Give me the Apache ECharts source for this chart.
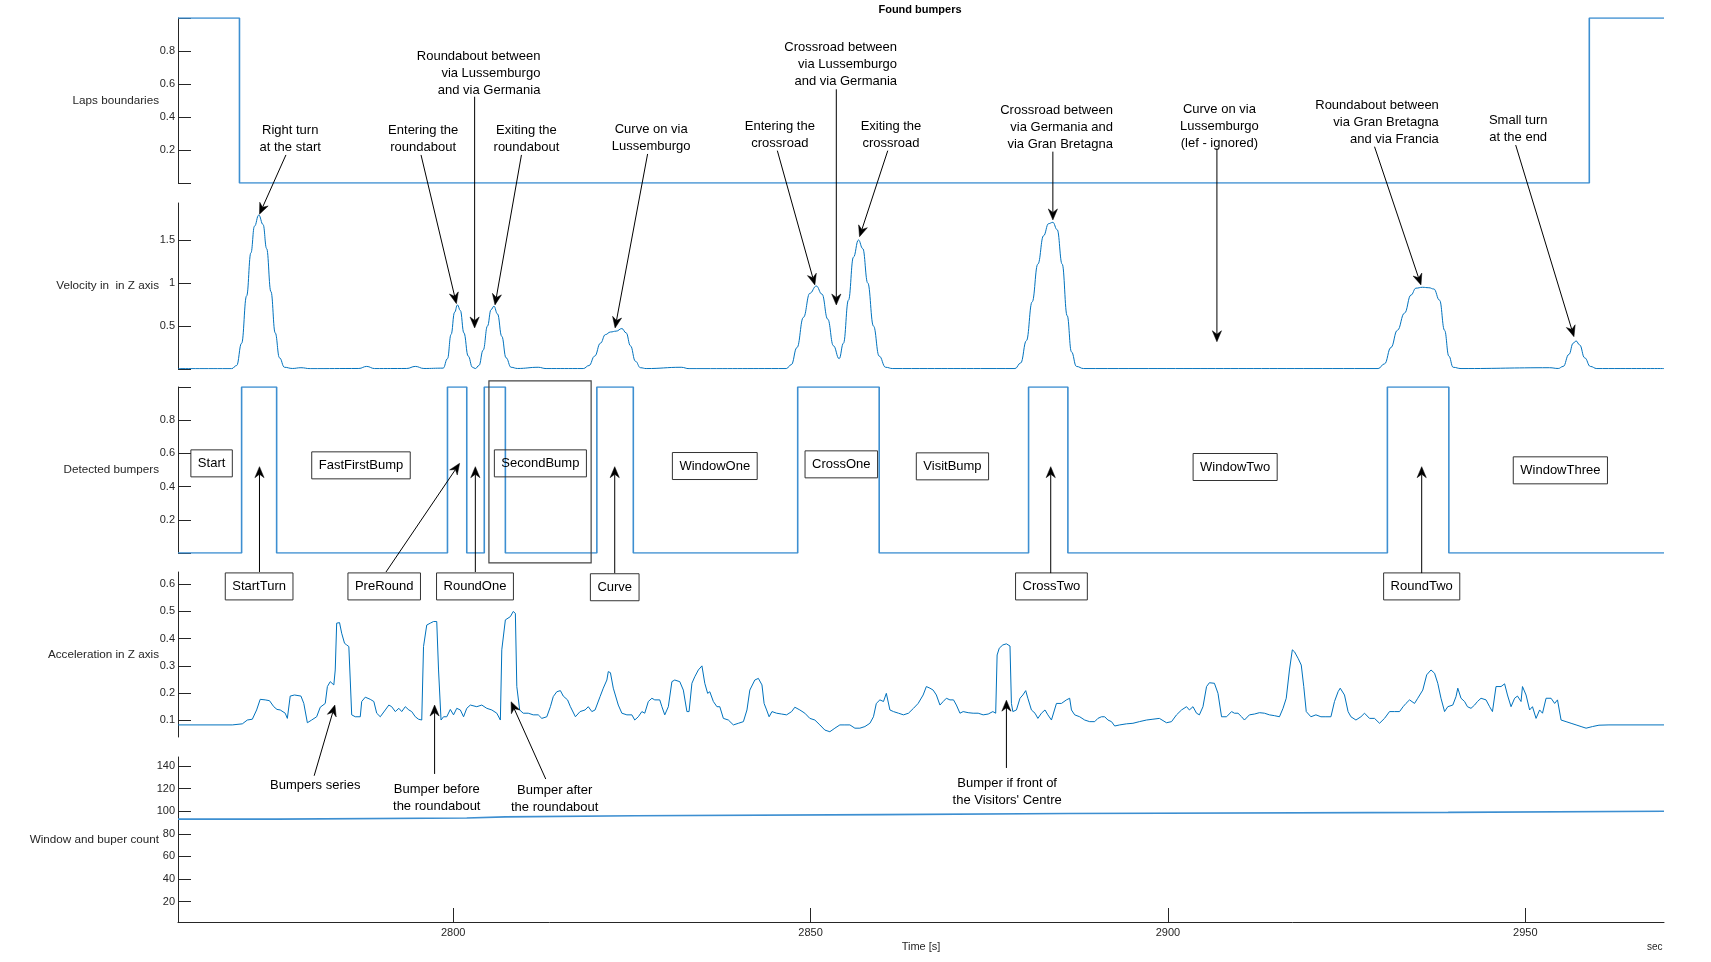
<!DOCTYPE html>
<html><head><meta charset="utf-8">
<script src="https://cdn.jsdelivr.net/npm/echarts@6/dist/echarts.min.js"></script>
<style>html,body{margin:0;padding:0;background:#fff}#c{width:1711px;height:962px}</style>
</head><body><div id="c"></div>
<script>
// ---------- DATA ----------
const lapSteps = [[2761.5, 1], [2770.1, 0], [2958.95, 1], [2969.4, 1]];
const bumpStarts = [2770.4, 2799.2, 2804.35, 2820.1, 2848.2, 2880.5, 2930.7];
const bumpEnds   = [2775.3, 2801.9, 2807.3, 2825.2, 2859.6, 2886.0, 2939.3];
const countStepTimes = [2761.5, 2775.3, 2801.9, 2807.3, 2825.4, 2859.9, 2886.1, 2939.2, 2969.4];
const countLevels    = [93, 94, 95, 96, 97, 98, 99, 100, 100];
const velocity = [
[2761.5,0.004],[2769.0,0.004],[2769.7,0.04],[2770.4,0.3],[2771.1,0.85],[2771.7,1.35],[2772.2,1.66],[2772.8,1.79],[2773.4,1.68],[2773.9,1.4],[2774.5,0.9],[2775.1,0.42],[2775.7,0.13],[2776.4,0.02],[2777.5,0.006],[2778.7,0.015],[2780,0.004],
[2786.8,0.006],[2787.9,0.03],[2789,0.005],[2793.5,0.006],[2794.7,0.03],[2795.9,0.006],[2798.6,0.01],[2799.2,0.12],[2799.7,0.4],[2800.2,0.66],[2800.6,0.745],[2801.0,0.68],[2801.5,0.42],[2802.1,0.15],[2802.7,0.02],[2803.1,0.005],[2803.6,0.04],[2804.2,0.22],[2804.8,0.5],[2805.3,0.69],[2805.7,0.73],[2806.2,0.64],[2806.8,0.38],[2807.4,0.13],[2808.1,0.02],[2809,0.006],[2811.9,0.02],[2813,0.005],
[2818.2,0.005],[2819,0.04],[2819.8,0.15],[2820.6,0.3],[2821.3,0.4],[2822.0,0.43],[2822.8,0.44],[2823.6,0.47],[2824.2,0.42],[2824.8,0.27],[2825.5,0.09],[2826.2,0.015],[2827,0.005],[2831.9,0.02],[2833,0.004],
[2846.6,0.005],[2847.3,0.05],[2848.1,0.25],[2849.0,0.6],[2849.9,0.88],[2850.8,0.965],[2851.6,0.87],[2852.4,0.58],[2853.2,0.27],[2854.0,0.12],[2854.6,0.3],[2855.3,0.8],[2856.0,1.3],[2856.7,1.5],[2857.3,1.4],[2858.0,1.0],[2858.8,0.5],[2859.6,0.15],[2860.5,0.02],[2861.5,0.005],
[2878.6,0.005],[2879.4,0.07],[2880.2,0.33],[2881.0,0.78],[2881.8,1.22],[2882.6,1.55],[2883.3,1.69],[2883.9,1.705],[2884.5,1.62],[2885.2,1.22],[2885.9,0.62],[2886.5,0.2],[2887.2,0.03],[2888.2,0.005],
[2929.4,0.005],[2930.3,0.06],[2931.2,0.25],[2932.1,0.45],[2933.1,0.65],[2934.0,0.86],[2934.7,0.94],[2935.6,0.95],[2936.5,0.945],[2937.2,0.93],[2938.0,0.8],[2938.7,0.45],[2939.3,0.15],[2939.9,0.02],[2941,0.005],
[2953.4,0.015],[2954.6,0.006],[2955.3,0.03],[2956.1,0.17],[2956.7,0.3],[2957.1,0.326],[2957.6,0.28],[2958.3,0.13],[2959.1,0.03],[2960,0.005],[2969.4,0.005]
];
const acceleration = [
[2761.5,.083],[2769.1,.083],[2770.5,.087],[2771.2,.101],[2771.9,.104],[2772.5,.138],[2773.0,.177],[2773.7,.175],[2774.3,.172],[2774.9,.150],[2775.35,.140],[2775.8,.138],[2776.5,.126],[2776.8,.107],[2777.2,.189],[2777.8,.193],[2778.7,.189],[2779.1,.162],[2779.6,.091],[2780.2,.101],[2780.9,.113],[2781.4,.148],[2782.1,.162],[2782.4,.224],[2782.8,.242],[2783.3,.230],[2783.5,.285],[2783.7,.457],[2784.1,.459],[2784.4,.420],[2784.8,.383],[2785.1,.377],[2785.4,.371],[2785.6,.248],[2785.8,.120],[2786.3,.113],[2787.0,.113],[2787.2,.169],[2787.7,.185],[2788.4,.177],[2788.9,.169],[2789.3,.126],[2789.8,.113],[2790.5,.138],[2791.0,.156],[2791.4,.150],[2791.9,.132],[2792.4,.144],[2792.8,.132],[2793.3,.150],[2793.8,.138],[2794.2,.132],[2794.7,.113],[2795.15,.104],[2795.6,.101],[2795.85,.371],[2796.3,.450],[2796.8,.457],[2797.25,.463],[2797.7,.463],[2797.95,.285],[2798.3,.101],[2798.65,.113],[2799.1,.113],[2799.6,.140],[2800.05,.120],[2800.5,.144],[2801.0,.138],[2801.45,.113],[2801.9,.144],[2802.4,.156],[2803.3,.150],[2804.0,.156],[2804.7,.144],[2805.4,.138],[2806.1,.126],[2806.6,.101],[2806.8,.359],[2807.3,.469],[2808.0,.481],[2808.4,.500],[2808.7,.493],[2808.9,.224],[2809.3,.138],[2809.8,.126],[2810.5,.126],[2811.2,.120],[2811.9,.120],[2812.4,.107],[2813.1,.113],[2813.6,.150],[2814.0,.187],[2814.5,.205],[2815.0,.209],[2815.4,.189],[2816.0,.175],[2816.4,.150],[2817.1,.113],[2817.75,.132],[2818.45,.138],[2818.9,.150],[2819.4,.132],[2819.85,.138],[2820.55,.187],[2821.0,.218],[2821.5,.248],[2821.7,.279],[2822.0,.275],[2822.4,.218],[2823.1,.156],[2823.6,.126],[2824.3,.120],[2825.0,.120],[2825.4,.101],[2825.9,.113],[2826.4,.132],[2826.8,.126],[2827.3,.169],[2827.8,.181],[2828.2,.175],[2828.9,.175],[2829.2,.150],[2829.6,.120],[2830.1,.150],[2830.6,.242],[2831.0,.248],[2831.7,.242],[2832.2,.211],[2832.7,.132],[2833.0,.132],
[2833.4,.236],[2833.8,.260],[2834.3,.285],[2834.8,.300],[2835.2,.236],[2835.6,.199],[2835.9,.205],[2836.4,.169],[2836.9,.150],[2837.3,.150],[2837.8,.107],[2838.5,.101],[2839.2,.083],[2839.9,.089],[2840.6,.095],[2841.1,.138],[2841.5,.211],[2842.2,.248],[2842.7,.254],[2843.2,.230],[2843.5,.162],[2843.85,.138],[2844.2,.113],[2844.6,.132],[2845.25,.126],[2845.95,.123],[2846.65,.120],[2847.35,.132],[2847.8,.148],[2848.5,.138],[2849.2,.126],[2849.9,.107],[2850.6,.101],[2851.3,.083],[2852.0,.064],[2852.7,.058],[2853.4,.071],[2854.1,.083],[2854.8,.083],[2855.5,.083],[2856.2,.071],[2856.9,.071],[2857.6,.077],[2858.3,.089],[2858.8,.113],[2859.2,.162],[2859.7,.175],[2860.2,.169],[2860.6,.199],[2861.1,.138],[2861.6,.132],[2862.3,.126],[2863.0,.120],[2863.7,.126],[2864.4,.144],[2865.05,.162],[2865.75,.193],[2866.2,.224],[2866.7,.218],[2867.15,.211],[2867.6,.193],[2868.1,.156],[2868.55,.169],[2869.0,.181],[2869.5,.175],[2870.0,.175],[2870.4,.156],[2870.9,.126],[2871.35,.132],[2872.05,.128],[2872.75,.126],[2873.45,.126],[2874.15,.120],[2874.85,.123],[2875.5,.132],[2875.9,.126],[2876.1,.340],[2876.4,.365],[2876.9,.377],[2877.4,.381],[2877.9,.373],[2878.1,.162],[2878.3,.132],[2878.8,.138],[2879.3,.181],[2879.7,.193],[2880.1,.209],[2880.4,.181],[2880.9,.138],[2881.4,.126],[2881.8,.107],[2882.3,.126],[2882.8,.138],[2883.2,.120],[2883.7,.101],[2884.4,.162],[2885.1,.162],[2885.8,.175],[2886.25,.181],[2886.5,.138],[2886.95,.120],[2887.65,.113],[2888.35,.101],[2889.05,.095],[2889.75,.095],[2890.2,.107],[2890.7,.113],[2891.15,.113],[2891.6,.101],[2892.1,.095],[2892.55,.079],[2893.25,.083],[2894.2,.087],[2895.1,.089],[2896.0,.095],[2897.0,.101],[2897.9,.104],[2898.8,.107],[2899.8,.091],[2900.5,.095],[2901.2,.120],[2901.9,.138],[2902.6,.150],
[2903.0,.138],[2903.5,.150],[2904.0,.126],[2904.4,.120],[2904.9,.150],[2905.4,.224],[2905.8,.238],[2906.5,.236],[2907.0,.199],[2907.5,.113],[2908.2,.113],[2908.9,.132],[2909.3,.126],[2909.8,.126],[2910.3,.113],[2910.7,.101],[2911.4,.120],[2912.1,.123],[2912.8,.128],[2913.5,.126],[2914.2,.120],[2914.9,.117],[2915.6,.113],[2916.1,.144],[2916.55,.181],[2917.0,.285],[2917.4,.359],[2917.7,.352],[2918.2,.328],[2918.65,.303],[2919.0,.224],[2919.35,.132],[2920.0,.113],[2920.7,.120],[2921.4,.113],[2922.1,.113],[2922.8,.113],[2923.3,.169],[2923.8,.205],[2924.1,.218],[2924.7,.193],[2925.2,.132],[2925.6,.113],[2926.3,.101],[2927.0,.113],[2927.5,.126],[2928.2,.107],[2928.9,.107],[2929.6,.089],[2930.3,.107],[2931.0,.132],[2931.7,.132],[2932.4,.132],[2932.9,.150],[2933.3,.162],[2933.8,.175],[2934.5,.162],[2934.95,.181],[2935.65,.211],[2936.2,.267],[2936.8,.285],[2937.3,.273],[2937.75,.236],[2938.2,.181],[2938.7,.132],[2939.15,.150],[2939.85,.156],[2940.3,.187],[2940.55,.218],[2941.0,.181],[2941.5,.169],[2941.9,.150],[2942.4,.144],[2942.9,.156],[2943.3,.169],[2943.8,.181],[2944.5,.175],[2945.0,.150],[2945.4,.132],[2945.9,.224],[2946.6,.224],[2947.1,.234],[2947.5,.193],[2948.0,.150],[2948.5,.181],[2948.9,.189],[2949.4,.169],[2949.6,.224],[2950.1,.193],[2950.6,.138],[2951.0,.150],[2951.5,.107],[2952.0,.138],[2952.4,.126],[2952.9,.181],[2953.6,.181],[2954.1,.162],[2954.5,.175],[2955.0,.101],[2955.7,.095],[2956.4,.089],[2957.1,.083],[2957.8,.077],[2958.5,.071],[2959.4,.077],[2960.3,.082],[2961.7,.083],[2969.4,.083]
];
const xTickValues = [2800, 2850, 2900, 2950];
const panelNames = ['Laps boundaries', 'Velocity in  in Z axis', 'Detected bumpers', 'Acceleration in Z axis', 'Window and buper count'];

// annotations (anchor in data coordinates of a panel)
const callouts = [
  {text:'Right turn\nat the start', g:0, t:2777.2, v:0.321, align:'center', from:[0,2776.6,0.17], to:[1,2772.9,1.80]},
  {text:'Entering the\nroundabout', g:0, t:2795.8, v:0.321, align:'center', from:[0,2795.5,0.17], to:[1,2800.45,0.76]},
  {text:'Roundabout between\nvia Lussemburgo\nand via Germania', g:0, t:2812.2, v:0.770, align:'right', from:[0,2803.0,0.523], to:[1,2803.0,0.477]},
  {text:'Exiting the\nroundabout', g:0, t:2810.25, v:0.321, align:'center', from:[0,2809.55,0.17], to:[1,2805.85,0.745]},
  {text:'Curve on via\nLussemburgo', g:0, t:2827.7, v:0.327, align:'center', from:[0,2827.2,0.176], to:[1,2822.65,0.477]},
  {text:'Entering the\ncrossroad', g:0, t:2845.7, v:0.345, align:'center', from:[0,2845.35,0.196], to:[1,2850.6,0.977]},
  {text:'Crossroad between\nvia Lussemburgo\nand via Germania', g:0, t:2862.1, v:0.82, align:'right', from:[0,2853.6,0.568], to:[1,2853.6,0.744]},
  {text:'Exiting the\ncrossroad', g:0, t:2861.25, v:0.345, align:'center', from:[0,2860.8,0.196], to:[1,2856.85,1.538]},
  {text:'Crossroad between\nvia Germania and\nvia Gran Bretagna', g:0, t:2892.3, v:0.442, align:'right', from:[0,2883.9,0.19], to:[1,2883.9,1.733]},
  {text:'Curve on via\nLussemburgo\n(lef - ignored)', g:0, t:2907.2, v:0.448, align:'center', from:[0,2906.85,0.21], to:[1,2906.85,0.317]},
  {text:'Roundabout between\nvia Gran Bretagna\nand via Francia', g:0, t:2937.9, v:0.473, align:'right', from:[0,2928.9,0.22], to:[1,2935.4,0.977]},
  {text:'Small turn\nat the end', g:0, t:2949.0, v:0.378, align:'center', from:[0,2948.65,0.23], to:[1,2956.8,0.376]},
  {text:'Bumpers series', g:4, t:2780.7, v:122.6, align:'center', from:[4,2780.55,131.4], to:[3,2783.45,0.156]},
  {text:'Bumper before\nthe roundabout', g:4, t:2797.7, v:119.7, align:'center', from:[4,2797.4,133], to:[3,2797.4,0.156]},
  {text:'Bumper after\nthe roundabout', g:4, t:2814.2, v:118.8, align:'center', from:[4,2812.95,128.5], to:[3,2808.1,0.168]},
  {text:'Bumper if front of\nthe Visitors\' Centre', g:4, t:2877.5, v:124.6, align:'center', from:[4,2877.4,138.3], to:[3,2877.4,0.174]}
];
const boxes = [
  {text:'Start', g:2, t:2766.2, v:0.540},
  {text:'FastFirstBump', g:2, t:2787.1, v:0.528},
  {text:'SecondBump', g:2, t:2812.2, v:0.540},
  {text:'WindowOne', g:2, t:2836.6, v:0.524},
  {text:'CrossOne', g:2, t:2854.3, v:0.534},
  {text:'VisitBump', g:2, t:2869.85, v:0.522},
  {text:'WindowTwo', g:2, t:2909.4, v:0.518},
  {text:'WindowThree', g:2, t:2954.9, v:0.498},
  {text:'StartTurn', g:3, t:2772.85, v:0.592, from:[3,2772.9,0.645], to:[2,2772.9,0.520]},
  {text:'PreRound', g:3, t:2790.35, v:0.592, from:[3,2790.6,0.645], to:[2,2800.9,0.540]},
  {text:'RoundOne', g:3, t:2803.05, v:0.592, from:[3,2803.1,0.645], to:[2,2803.1,0.520]},
  {text:'Curve', g:3, t:2822.6, v:0.589, from:[3,2822.6,0.641], to:[2,2822.6,0.520]},
  {text:'CrossTwo', g:3, t:2883.7, v:0.592, from:[3,2883.6,0.641], to:[2,2883.6,0.520]},
  {text:'RoundTwo', g:3, t:2935.5, v:0.592, from:[3,2935.5,0.641], to:[2,2935.5,0.520]}
];
const highlightRect = {g:2, t0:2805.0, t1:2819.3, v0:1.037, v1:-0.060};

// ---------- BUILD ----------
const detectedData = [[2761.5, 0]];
bumpStarts.forEach((s, i) => { detectedData.push([s, 1]); detectedData.push([bumpEnds[i], 0]); });
detectedData.push([2969.4, 0]);
const countData = countStepTimes.map((t, i) => [t, countLevels[i]]);

const FONT = '"Liberation Sans", Arial, Helvetica, sans-serif';
const TXT = '#262626';
const tops = [18, 203, 387, 572, 757];
const heights = [165, 166, 166, 165, 165];
const yRanges = [[0, 1], [0, 1.93], [0, 1], [0.0386, 0.645], [2, 148]];
const yTicks = [[0,0.2,0.4,0.6,0.8,1],[0,0.5,1,1.5],[0,0.2,0.4,0.6,0.8,1],[0.1,0.2,0.3,0.4,0.5,0.6],[20,40,60,80,100,120,140]];
const yLabels = [[0.2,0.4,0.6,0.8],[0.5,1,1.5],[0.2,0.4,0.6,0.8],[0.1,0.2,0.3,0.4,0.5,0.6],[20,40,60,80,100,120,140]];

const grids = tops.map((t, i) => ({left: 178, right: 47, top: t, height: heights[i], containLabel: false}));
const xAxes = tops.map((t, i) => ({
  type: 'value', gridIndex: i, min: 2761.5, max: 2969.4, show: i === 4,
  splitLine: {show: false},
  axisLine: {show: true, lineStyle: {color: '#262626', width: 1}},
  axisTick: {show: true, inside: true, length: 14, customValues: xTickValues, lineStyle: {color: '#262626'}},
  axisLabel: {show: true, customValues: xTickValues, margin: 5, color: TXT, fontSize: 11, fontFamily: FONT, formatter: v => String(v)},
  name: i === 4 ? 'Time [s]' : '', nameLocation: 'middle', nameGap: 19,
  nameTextStyle: {color: TXT, fontSize: 11, fontFamily: FONT}
}));
const yAxes = tops.map((t, i) => ({
  type: 'value', gridIndex: i, min: yRanges[i][0], max: yRanges[i][1],
  splitLine: {show: false},
  axisLine: {show: true, onZero: false, lineStyle: {color: '#262626', width: 1}},
  axisTick: {show: true, inside: true, length: 13, customValues: yTicks[i], lineStyle: {color: '#262626'}},
  axisLabel: {show: true, customValues: yLabels[i], margin: 3, color: TXT, fontSize: 11, fontFamily: FONT, formatter: v => String(v)},
  name: panelNames[i], nameLocation: 'middle', nameRotate: 0, nameGap: 19, nameMoveOverlap: false,
  nameTextStyle: {color: TXT, fontSize: 11.7, fontFamily: FONT, align: 'right', verticalAlign: 'middle'}
}));

const STEP_COLOR = '#3d8fd1';
const LINE_COLOR = '#0072BD';
const series = [
  {type: 'line', xAxisIndex: 0, yAxisIndex: 0, data: lapSteps, step: 'end', symbol: 'none', lineStyle: {color: STEP_COLOR, width: 1.6}, silent: true, animation: false},
  {type: 'line', xAxisIndex: 1, yAxisIndex: 1, data: velocity, smooth: 0.45, smoothMonotone: 'x', symbol: 'none', lineStyle: {color: LINE_COLOR, width: 1}, silent: true, animation: false},
  {type: 'line', xAxisIndex: 2, yAxisIndex: 2, data: detectedData, step: 'end', symbol: 'none', lineStyle: {color: STEP_COLOR, width: 1.6}, silent: true, animation: false},
  {type: 'line', xAxisIndex: 3, yAxisIndex: 3, data: acceleration, symbol: 'none', lineStyle: {color: LINE_COLOR, width: 1}, silent: true, animation: false},
  {type: 'line', xAxisIndex: 4, yAxisIndex: 4, data: countData, step: 'end', symbol: 'none', lineStyle: {color: STEP_COLOR, width: 1.6}, silent: true, animation: false}
];

const chart = echarts.init(document.getElementById('c'), null, {renderer: 'canvas'});
chart.setOption({
  backgroundColor: '#fff', animation: false,
  title: {text: 'Found bumpers', left: 920, top: 4, padding: 0, textAlign: 'center',
    textStyle: {fontSize: 11, fontWeight: 'bold', color: '#000', fontFamily: FONT}},
  grid: grids, xAxis: xAxes, yAxis: yAxes, series: series
});

// ---------- ANNOTATIONS ----------
function P(g, t, v) { return chart.convertToPixel({gridIndex: g}, [t, v]); }
function arrow(p0, p1, color) {
  const dx = p1[0] - p0[0], dy = p1[1] - p0[1];
  const L = Math.hypot(dx, dy), ux = dx / L, uy = dy / L, nx = -uy, ny = ux;
  const len = 11, half = 4.6, notch = 7.5;
  const bx = p1[0] - ux * len, by = p1[1] - uy * len;
  const back = [p1[0] - ux * notch, p1[1] - uy * notch];
  return [
    {type: 'line', shape: {x1: p0[0], y1: p0[1], x2: back[0], y2: back[1]}, style: {stroke: color, lineWidth: 1}, z: 100},
    {type: 'polygon', shape: {points: [p1, [bx + nx * half, by + ny * half], back, [bx - nx * half, by - ny * half]]}, style: {fill: color, stroke: color, lineWidth: 0.5}, z: 100}
  ];
}
const graphics = [];
callouts.forEach(c => {
  const p = P(c.g, c.t, c.v);
  graphics.push({type: 'text', x: p[0], y: p[1] - 8.5, z: 100,
    style: {text: c.text, font: '13px ' + FONT, fill: '#000', align: c.align, verticalAlign: 'top', lineHeight: 17}});
  graphics.push(...arrow(P(c.from[0], c.from[1], c.from[2]), P(c.to[0], c.to[1], c.to[2]), '#000'));
});
boxes.forEach(b => {
  const p = P(b.g, b.t, b.v);
  graphics.push({type: 'text', x: p[0], y: p[1], z: 100,
    style: {text: b.text, font: '13px ' + FONT, fill: '#000', align: 'center', verticalAlign: 'middle', lineHeight: 15,
      padding: [6, 7, 6, 7], borderColor: '#333', borderWidth: 1}});
  if (b.from) graphics.push(...arrow(P(b.from[0], b.from[1], b.from[2]), P(b.to[0], b.to[1], b.to[2]), '#000'));
});
const r0 = P(highlightRect.g, highlightRect.t0, highlightRect.v0), r1 = P(highlightRect.g, highlightRect.t1, highlightRect.v1);
graphics.push({type: 'rect', z: 100, shape: {x: r0[0], y: r0[1], width: r1[0] - r0[0], height: r1[1] - r0[1]},
  style: {fill: 'none', stroke: '#444', lineWidth: 1.2}});
const secPos = P(4, 2968.1, 2);
graphics.push({type: 'text', x: secPos[0], y: secPos[1] + 25, z: 100,
  style: {text: 'sec', font: '10px ' + FONT, fill: TXT, align: 'center', verticalAlign: 'middle'}});
chart.setOption({graphic: graphics});
</script>
</body></html>
